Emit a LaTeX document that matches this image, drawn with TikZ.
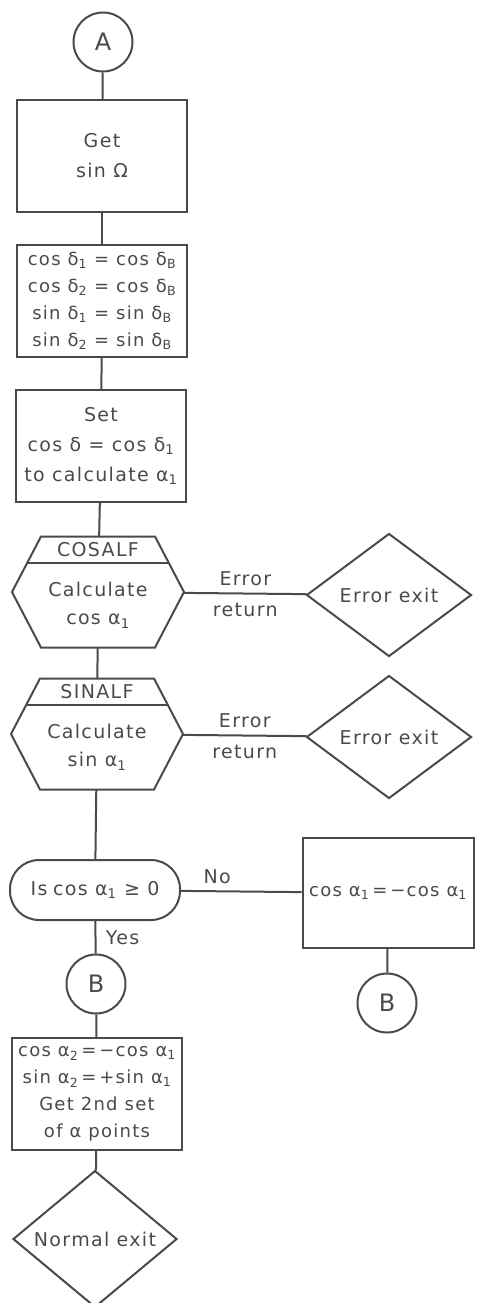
\documentclass[tikz,border=0pt]{standalone}
\usepackage{fontspec}
\setmainfont[LetterSpace=7]{DejaVu Sans}
\usetikzlibrary{shapes.geometric,calc}
\definecolor{ink}{HTML}{4A4A4A}

\begin{document}
\begin{tikzpicture}[x=1pt,y=-1pt,line width=2pt,draw=ink,
    every node/.style={font=\fontsize{19}{28}\selectfont,text=ink,align=center},
    conn/.style={circle,draw,minimum size=59,inner sep=0,font=\fontsize{24}{24}\selectfont},
    box/.style={rectangle,draw,minimum width=170,minimum height=112,inner sep=1},
    dense/.style={font=\fontsize{18}{27}\selectfont},
    exitbox/.style={diamond,draw,minimum width=165,minimum height=123,inner sep=0},
    test/.style={rectangle,draw,rounded corners=29,minimum width=170,minimum height=60},
    hexa/.style={rectangle,minimum width=170,minimum height=109,inner sep=0}]
  \useasboundingbox (0,0) rectangle (479,1303);

  \node [conn] (A) at (103,42) {A};
  \node [box] (get) at (102,156) {Get\\[2pt]sin Ω};
  \node [box,dense] (eq) at (102,301) {cos δ\textsubscript{1} = cos δ\textsubscript{B}\\cos δ\textsubscript{2} = cos δ\textsubscript{B}\\sin δ\textsubscript{1} = sin δ\textsubscript{B}\\sin δ\textsubscript{2} = sin δ\textsubscript{B}};
  \node [box] (set) at (101,446) {Set\\[2pt]cos δ = cos δ\textsubscript{1}\\[2pt]to calculate α\textsubscript{1}};

  % library routines
  \foreach \n/\xx/\yy/\h/\b in {cosalf/98/592/COSALF/{Calculate\\cos α\textsubscript{1}},
                                sinalf/97/734/SINALF/{Calculate\\sin α\textsubscript{1}}} {
    \node [hexa] (\n) at (\xx,\yy) {};
    \draw ($(\n.north west)+(29,0)$) -- ($(\n.north east)+(-29,0)$) -- (\n.east)
      -- ($(\n.south east)+(-29,0)$) -- ($(\n.south west)+(29,0)$) -- (\n.west) -- cycle;
    \draw ($(\n.north west)+(15,26)$) -- ($(\n.north east)+(-15,26)$);
    \node at ($(\n.north)+(0,13)$) {\h};
    \node at ($(\n.center)+(0,13)$) {\b};
  }

  \node [exitbox] (err1) at (389,595) {Error\hspace{0.4em}exit};
  \node [exitbox] (err2) at (389,737) {Error\hspace{0.4em}exit};

  \node [test] (test) at (95,890) {Is\hspace{0.3em}cos α\textsubscript{1} ≥ 0};
  \node [box,dense,minimum width=171,minimum height=110] (fix) at (388,893) {cos α\textsubscript{1}\,=\,−cos α\textsubscript{1}};
  \node [conn] (B1) at (96,984) {B};
  \node [conn] (B2) at (387,1003) {B};
  \node [box,dense] (fin) at (97,1094) {cos α\textsubscript{2}\,=\,−cos α\textsubscript{1}\\sin α\textsubscript{2}\,=\,+sin α\textsubscript{1}\\Get 2nd set\\of α points};
  \node [exitbox,minimum width=164,minimum height=122] (done) at (95,1239) {Normal exit};

  \path (A) edge (get);
  \path (get) edge (eq);
  \path (eq) edge (set);
  \path (set) edge (cosalf);
  \path (cosalf) edge (sinalf);
  \path (sinalf) edge (test);
  \path (cosalf) edge node[above=3pt] {Error} node[below=5pt] {return} (err1);
  \path (sinalf) edge node[above=3pt] {Error} node[below=5pt] {return} (err2);
  \path (test) edge node[above=3pt,pos=0.3] {No} (fix);
  \path (test) edge node[right=6pt] {Yes} (B1);
  \path (fix) edge (B2);
  \path (B1) edge (fin);
  \path (fin) edge (done);

\end{tikzpicture}
\end{document}
